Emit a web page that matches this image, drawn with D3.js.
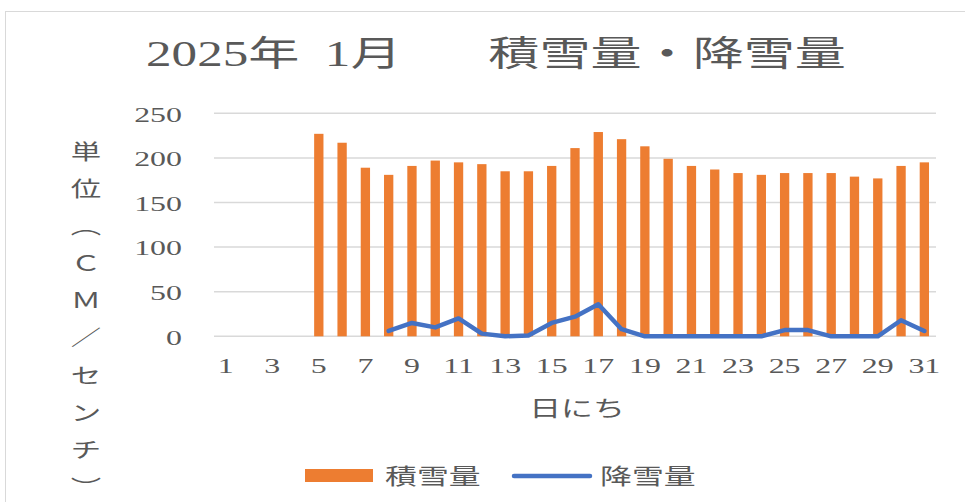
<!DOCTYPE html>
<html>
<head>
<meta charset="utf-8">
<script src="https://cdn.jsdelivr.net/npm/d3@7"></script>
<style>
body{margin:0;background:#fff;}
text{font-family:"Liberation Serif","Noto Sans CJK JP",serif;fill:#595959;}
</style>
</head>
<body>
<div id="chart"></div>
<script>
//データ
var days = [1,2,3,4,5,6,7,8,9,10,11,12,13,14,15,16,17,18,19,20,21,22,23,24,25,26,27,28,29,30,31]
var dayTicks = [1,3,5,7,9,11,13,15,17,19,21,23,25,27,29,31]
//積雪量
var snowDepth = [null,null,null,null,227,217,189,181,191,197,195,193,185,185,191,211,229,221,213,199,191,187,183,181,183,183,183,179,177,191,195]
//降雪量
var snowFall = [null,null,null,null,null,null,null,6,15,10,20,3,0,1,15,22,36,8,0,0,0,0,0,0,7,7,0,0,0,18,6]
var yTicks = [0,50,100,150,200,250]
var title = "2025年\u20021月\u3000  \u2009積雪量・降雪量"
var yLabel = ["単","位","︵","Ｃ","Ｍ","／","セ","ン","チ","︶"]
var legendNames = ["積雪量","降雪量"]

var width = 965
var height = 502
var pLeft = 214, pRight = 936, pTop = 113.3, pBottom = 336.3
var sx = 1.45   //文字の横伸び

var svg = d3.select("#chart")
    .append("svg")
    .attr("width",width)
    .attr("height",height)

//文字を横に伸ばす
function put(sel,x,y,k){
    sel.attr("transform","translate("+x+","+y+") scale("+(k||sx)+",1)")
}

//枠
svg.append("rect")
    .attr("x",5.5)
    .attr("y",11.5)
    .attr("width",1000)
    .attr("height",600)
    .attr("fill","none")
    .attr("stroke","#d9d9d9")
    .attr("stroke-width",1)

var x = d3.scaleBand()
    .domain(days)
    .range([pLeft,pRight])

var y = d3.scaleLinear()
    .domain([0,250])
    .range([pBottom,pTop])

//目盛り線
svg.append("g")
    .selectAll("line")
    .data(yTicks)
    .join("line")
    .attr("x1",pLeft)
    .attr("x2",pRight)
    .attr("y1",d=>y(d))
    .attr("y2",d=>y(d))
    .attr("stroke","#d9d9d9")
    .attr("stroke-width",1.5)

//y軸
var gy = svg.append("g")
    .attr("transform","translate("+pLeft+",0)")
    .call(d3.axisLeft(y).tickValues(yTicks).tickSize(0).tickPadding(0))
gy.select(".domain").remove()
gy.selectAll("text")
    .attr("x",-32/sx)
    .attr("dy","0.35em")
    .attr("transform","scale("+sx+",1)")
    .style("font-size","22px")
    .attr("fill","#595959")

//x軸
var gx = svg.append("g")
    .attr("transform","translate(0,"+pBottom+")")
    .call(d3.axisBottom(x).tickValues(dayTicks).tickSize(0).tickPadding(21))
gx.select(".domain").remove()
gx.selectAll("text")
    .attr("transform","scale("+sx+",1)")
    .style("font-size","22px")
    .attr("fill","#595959")

//棒
var bw = x.bandwidth()*0.4
svg.append("g")
    .selectAll("rect")
    .data(days.map((d,i)=>({day:d,v:snowDepth[i]})).filter(d=>d.v!=null))
    .join("rect")
    .attr("x",d=>x(d.day)+x.bandwidth()/2-bw/2)
    .attr("y",d=>y(d.v))
    .attr("width",bw)
    .attr("height",d=>y(0)-y(d.v))
    .attr("fill","#ED7D31")

//折れ線
var line = d3.line()
    .defined(d=>d.v!=null)
    .x(d=>x(d.day)+x.bandwidth()/2)
    .y(d=>y(d.v))
svg.append("path")
    .attr("d",line(days.map((d,i)=>({day:d,v:snowFall[i]}))))
    .attr("fill","none")
    .attr("stroke","#4472C4")
    .attr("stroke-width",4.5)
    .attr("stroke-linejoin","round")
    .attr("stroke-linecap","round")

//タイトル
svg.append("text")
    .text(title)
    .attr("text-anchor","middle")
    .style("font-size","35px")
    .style("white-space","pre")
    .call(put,496,66,1.46)

//軸タイトル
svg.append("text")
    .text("日にち")
    .attr("text-anchor","middle")
    .style("font-size","22px")
    .call(put,577,416)

svg.append("g")
    .selectAll("text")
    .data(yLabel)
    .join("text")
    .text(d=>d)
    .attr("text-anchor","middle")
    .attr("dominant-baseline","central")
    .style("font-size","21px")
    .each(function(d,i){
        d3.select(this).call(put,86,152+i*37.3)
    })

//凡例
svg.append("rect")
    .attr("x",305)
    .attr("y",469)
    .attr("width",68)
    .attr("height",13)
    .attr("fill","#ED7D31")
svg.append("text")
    .text(legendNames[0])
    .style("font-size","22px")
    .call(put,385,484)
svg.append("line")
    .attr("x1",514)
    .attr("x2",590)
    .attr("y1",476)
    .attr("y2",476)
    .attr("stroke","#4472C4")
    .attr("stroke-width",4.5)
    .attr("stroke-linecap","round")
svg.append("text")
    .text(legendNames[1])
    .style("font-size","22px")
    .call(put,600,484)
</script>
</body>
</html>
